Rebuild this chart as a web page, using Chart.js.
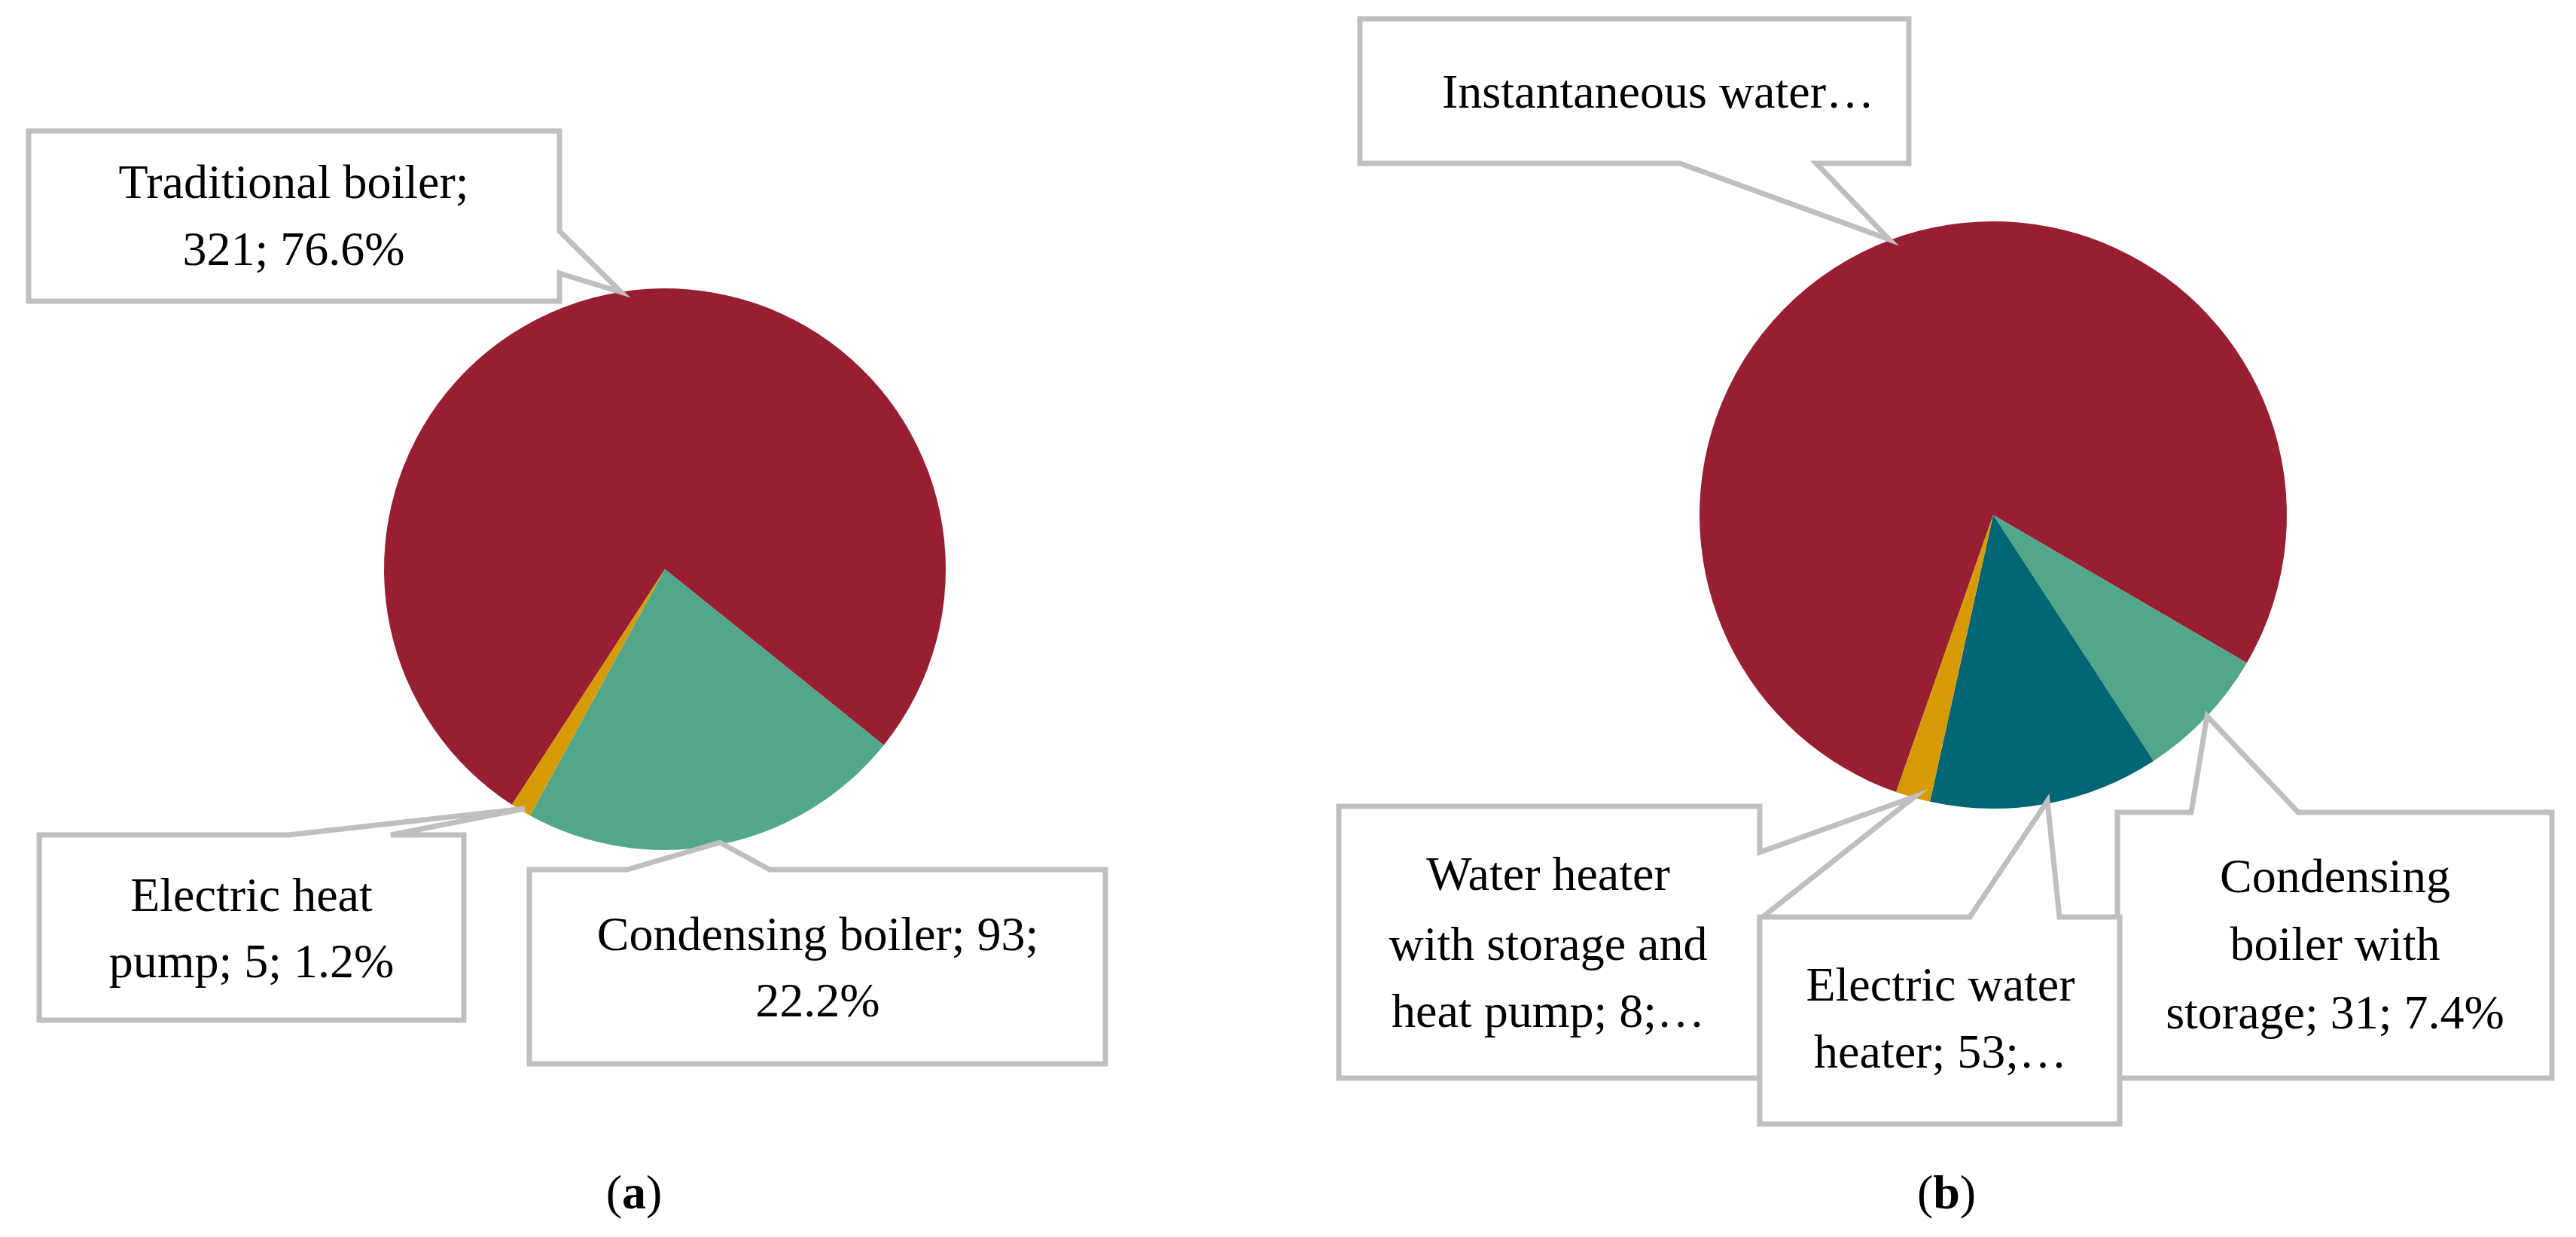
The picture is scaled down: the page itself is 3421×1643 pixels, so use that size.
<!DOCTYPE html>
<html><head><meta charset="utf-8">
<script src="https://cdn.jsdelivr.net/npm/chart.js@4"></script>
<style>html,body{margin:0;padding:0;background:#fff;width:3421px;height:1643px;overflow:hidden}
canvas{position:absolute;left:0;top:0}</style></head>
<body>
<canvas id="ca" width="3421" height="1643"></canvas>
<canvas id="cb" width="3421" height="1643"></canvas>
<script>
const labelsA = ["Traditional boiler", "Condensing boiler", "Electric heat pump"];
const valuesA = [321, 93, 5];
const colorsA = ["#971F31", "#52A68A", "#D69A05"];
const labelsB = ["Instantaneous water heater", "Condensing boiler with storage", "Electric water heater", "Water heater with storage and heat pump"];
const valuesB = [327, 31, 53, 8];
const colorsB = ["#971F31", "#52A68A", "#006673", "#D69A05"];
const FONT = '64px "Liberation Serif", serif';

// callouts: box, pointer polygon (base1, tip, base2), text lines, text center
const calloutsA = [
  {box:[38,174,743,400], ptr:[[743,307],[825,388],[743,363]], lines:["Traditional boiler;","321; 76.6%"], cx:390, ys:[246,335]},
  {box:[52,1109,616,1355], ptr:[[383,1109],[697,1074],[519,1109]], lines:["Electric heat","pump; 5; 1.2%"], cx:334, ys:[1193,1281]},
  {box:[703,1155,1468,1413], ptr:[[833,1155],[956,1119],[1022,1155]], lines:["Condensing boiler; 93;","22.2%"], cx:1086, ys:[1245,1333]}
];
const calloutsB = [
  {box:[1806,25,2535,217], ptr:[[2231,217],[2509,318],[2412,217]], lines:["Instantaneous water…"], cx:2202, ys:[126]},
  {box:[1778,1071,2337,1432], ptr:[[2337,1132],[2543,1058],[2337,1221]], lines:["Water heater","with storage and","heat pump; 8;…"], cx:2056, ys:[1165,1258,1347]},
  {box:[2812,1079,3389,1432], ptr:[[2910,1079],[2931,951],[3052,1079]], lines:["Condensing","boiler with","storage; 31; 7.4%"], cx:3101, ys:[1168,1258,1349]},
  {box:[2337,1218,2815,1493], ptr:[[2616,1218],[2719,1064],[2735,1218]], lines:["Electric water","heater; 53;…"], cx:2577, ys:[1312,1401]}
];

function calloutPlugin(list, tag, tagX){
  return {id:'callouts', afterDraw(chart){
    const ctx = chart.ctx; ctx.save();
    for (const c of list){
      const [x1,y1,x2,y2]=c.box; const p=c.ptr;
      ctx.beginPath();
      // build outline: rectangle with pointer inserted on the relevant edge
      const pts=[[x1,y1],[x2,y1],[x2,y2],[x1,y2]];
      let poly=[];
      if (p[0][1]===y1 && p[2][1]===y1){ poly=[[x1,y1],p[0],p[1],p[2],[x2,y1],[x2,y2],[x1,y2]]; }
      else if (p[0][0]===x2){ poly=[[x1,y1],[x2,y1],p[0],p[1],p[2],[x2,y2],[x1,y2]]; }
      else if (p[0][1]===y2){ poly=[[x1,y1],[x2,y1],[x2,y2],p[2],p[1],p[0],[x1,y2]]; }
      else poly=pts;
      ctx.moveTo(poly[0][0],poly[0][1]);
      for (let i=1;i<poly.length;i++) ctx.lineTo(poly[i][0],poly[i][1]);
      ctx.closePath();
      ctx.fillStyle='#fff'; ctx.fill();
      ctx.strokeStyle='#BFBFBF'; ctx.lineWidth=7; ctx.lineJoin='miter'; ctx.stroke();
      ctx.fillStyle='#000'; ctx.font=FONT; ctx.textAlign='center'; ctx.textBaseline='middle';
      c.lines.forEach((t,i)=>ctx.fillText(t,c.cx,c.ys[i]));
    }
    ctx.textAlign='center'; ctx.textBaseline='middle';
    ctx.font='64px "Liberation Serif", serif';
    const w1=ctx.measureText('(').width, wt=ctx.measureText(')').width;
    ctx.font='bold 64px "Liberation Serif", serif'; const wl=ctx.measureText(tag).width;
    const tot=w1+wl+wt; let x=tagX-tot/2;
    ctx.textAlign='left';
    ctx.font='64px "Liberation Serif", serif'; ctx.fillText('(',x,1588); x+=w1;
    ctx.font='bold 64px "Liberation Serif", serif'; ctx.fillText(tag,x,1588); x+=wl;
    ctx.font='64px "Liberation Serif", serif'; ctx.fillText(')',x,1588);
    ctx.restore();
  }};
}

function pie(id, labels, values, colors, rot, pad, plugin){
  return new Chart(document.getElementById(id), {
    type:'pie',
    data:{labels, datasets:[{data:values, backgroundColor:colors, borderWidth:0}]},
    options:{responsive:false, animation:false, rotation:rot,
      layout:{padding:pad},
      plugins:{legend:{display:false}, tooltip:{enabled:false}}},
    plugins:[plugin]
  });
}
// (a) center (883,756) r 373 ; (b) center (2647,684) r 390
pie('ca', labelsA, valuesA, colorsA, 213, {left:510, right:3421-1256, top:383, bottom:1643-1129}, calloutPlugin(calloutsA,'a',842));
pie('cb', labelsB, valuesB, colorsB, 199.3, {left:2257, right:3421-3037, top:294, bottom:1643-1074}, calloutPlugin(calloutsB,'b',2585));
</script></body></html>
